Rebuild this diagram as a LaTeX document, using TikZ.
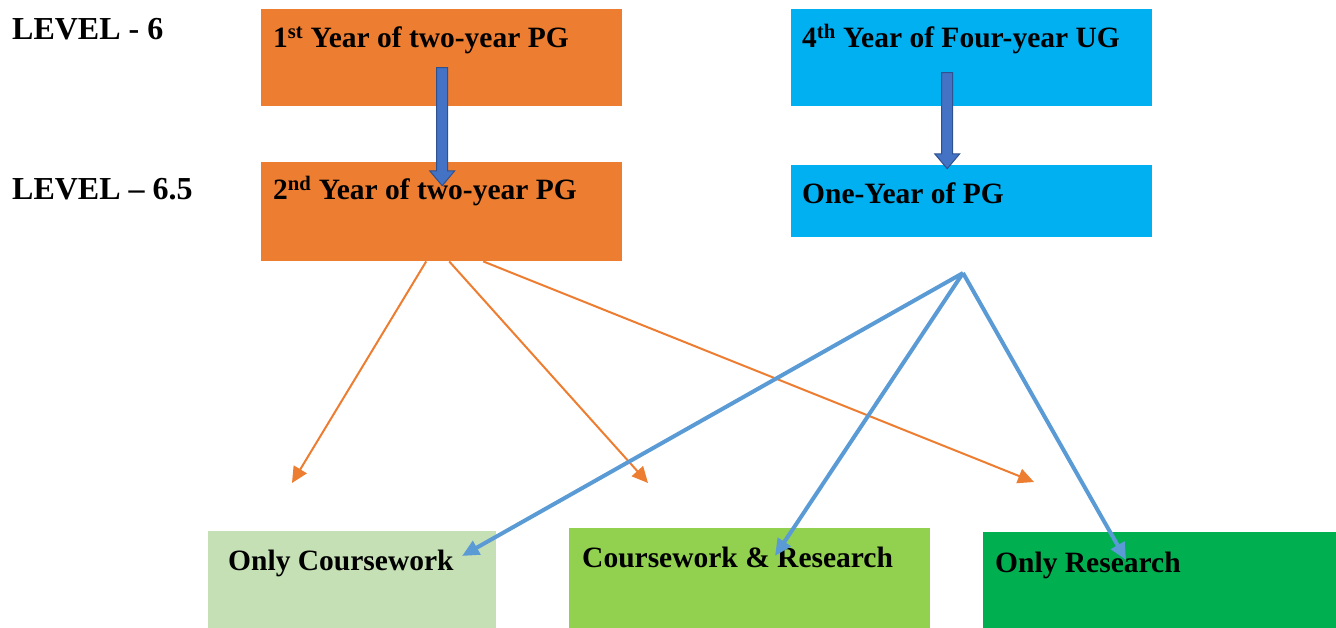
\documentclass[tikz,border=0pt]{standalone}
\usepackage{fontspec}
\setmainfont{Liberation Serif}
\usetikzlibrary{arrows.meta,shapes.arrows}

\definecolor{pgorange}{HTML}{ED7D31}
\definecolor{ugblue}{HTML}{00B0F0}
\definecolor{blockfill}{HTML}{4472C4}
\definecolor{blockedge}{HTML}{2F528F}
\definecolor{lineblue}{HTML}{5B9BD5}
\definecolor{palegreen}{HTML}{C5E0B4}
\definecolor{midgreen}{HTML}{92D050}
\definecolor{deepgreen}{HTML}{00B050}

\begin{document}
\begin{tikzpicture}[x=1pt, y=-1pt,
  box/.style={anchor=north west, inner sep=0pt, minimum width=361pt},
  boxtext/.style={anchor=base west, inner sep=0pt, font=\bfseries\fontsize{29.5}{34}\selectfont},
  leveltext/.style={anchor=base west, inner sep=0pt, font=\bfseries\fontsize{32}{38}\selectfont},
  orangearrow/.style={pgorange, line width=2pt, -{Triangle[length=16pt, width=15pt]}},
  bluearrow/.style={lineblue, line width=4pt, -{Triangle[length=17pt, width=15pt]}},
  blockarrow/.style={single arrow, rotate=-90, anchor=tail, fill=blockfill, draw=blockedge,
    line width=1pt, inner sep=5pt, minimum width=24pt, single arrow head extend=7pt,
    single arrow tip angle=80}]
  \useasboundingbox (0,0) rectangle (1336,628);

  % levels
  \node[leveltext] (lvl6) at (12,40) {LEVEL - 6};
  \node[leveltext] (lvl65) at (12,200) {LEVEL -- 6.5};

  % boxes
  \node[box, fill=pgorange, minimum height=97pt] (firstpg) at (261,9) {};
  \node[box, fill=pgorange, minimum height=99pt] (secondpg) at (261,162) {};
  \node[box, fill=ugblue, minimum height=97pt] (fourthug) at (791,9) {};
  \node[box, fill=ugblue, minimum height=72pt] (onepg) at (791,165) {};
  \node[box, fill=palegreen, minimum width=288pt, minimum height=97pt] (onlycw) at (208,531) {};
  \node[box, fill=midgreen, minimum height=100pt] (cwres) at (569,528) {};
  \node[box, fill=deepgreen, minimum width=353pt, minimum height=96pt] (onlyres) at (983,532) {};

  \node[boxtext] (firstpg-t) at ([shift={(12,39)}]firstpg.north west) {1\textsuperscript{st} Year of two-year PG};
  \node[boxtext] (secondpg-t) at ([shift={(12,38)}]secondpg.north west) {2\textsuperscript{nd} Year of two-year PG};
  \node[boxtext] (fourthug-t) at ([shift={(11,39)}]fourthug.north west) {4\textsuperscript{th} Year of Four-year UG};
  \node[boxtext] (onepg-t) at ([shift={(11,39)}]onepg.north west) {One-Year of PG};
  \node[boxtext] (onlycw-t) at ([shift={(20,39)}]onlycw.north west) {Only Coursework};
  \node[boxtext] (cwres-t) at ([shift={(13,39)}]cwres.north west) {Coursework \& Research};
  \node[boxtext] (onlyres-t) at ([shift={(12,40)}]onlyres.north west) {Only Research};

  % block arrows between the years
  \node[blockarrow, minimum height=118pt] (step1) at ([xshift=0.5pt, yshift=-9.5pt]firstpg.center) {};
  \node[blockarrow, minimum height=96pt] (step2) at ([xshift=-24.5pt, yshift=-14.5pt]fourthug.center) {};

  % orange paths from the two-year PG
  \coordinate (cw-end) at (292,483);
  \coordinate (cr-end) at (648,483);
  \coordinate (rs-end) at (1034,482);
  \draw[orangearrow] ([xshift=-15.5pt]secondpg.south) -- (cw-end);
  \draw[orangearrow] ([xshift=7.5pt]secondpg.south) -- (cr-end);
  \draw[orangearrow] ([xshift=41.5pt]secondpg.south) -- (rs-end);

  % blue paths from the one-year PG
  \coordinate (hub) at (963,273);
  \draw[bluearrow] (hub) -- ([shift={(254,25)}]onlycw.north west);
  \draw[bluearrow] (hub) -- ([shift={(206,28)}]cwres.north west);
  \draw[bluearrow] (hub) -- ([shift={(143,28)}]onlyres.north west);
\end{tikzpicture}
\end{document}
